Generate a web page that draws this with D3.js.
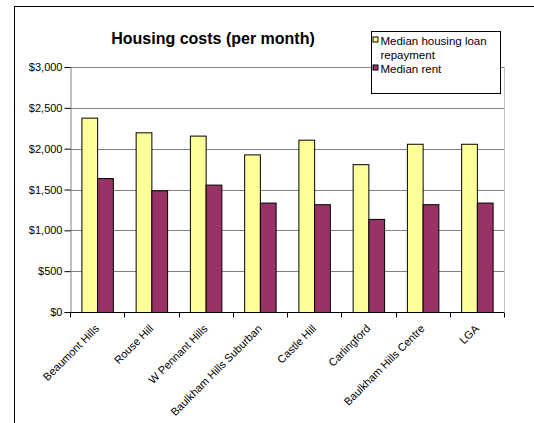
<!DOCTYPE html>
<html>
<head>
<meta charset="utf-8">
<script src="https://cdn.jsdelivr.net/npm/d3@7"></script>
<style>
  body { margin: 0; background: #fff; }
  text { font-family: "Liberation Sans", Arial, sans-serif; fill: #000; }
</style>
</head>
<body>
<div id="chart"></div>
<script>
// Chart data
var suburbs = ["Beaumont Hills", "Rouse Hill", "W Pennant Hills", "Baulkham Hills Suburban",
  "Castle Hill", "Carlingford", "Baulkham Hills Centre", "LGA"];
var loanRepayment = [2380, 2200, 2160, 1930, 2110, 1810, 2060, 2060];
var rent = [1640, 1490, 1560, 1340, 1320, 1140, 1320, 1340];
var seriesNames = ["Median housing loan repayment", "Median rent"];
var yTicks = [0, 500, 1000, 1500, 2000, 2500, 3000];

var svgWidth = 534;
var svgHeight = 423;

// plot area
var margin = { top: 67, right: 30, bottom: 111, left: 70 };
var chartWidth = svgWidth - margin.left - margin.right;
var chartHeight = svgHeight - margin.top - margin.bottom;

var svg = d3.select("#chart")
  .append("svg")
  .attr("width", svgWidth)
  .attr("height", svgHeight);

// outer chart frame (runs off the right and bottom edge)
svg.append("rect")
  .attr("x", 14.5).attr("y", 6.5)
  .attr("width", 560).attr("height", 460)
  .attr("fill", "#fff")
  .attr("stroke", "#000");

var chartGroup = svg.append("g")
  .attr("transform", `translate(${margin.left}, ${margin.top})`);

// scales
var x0 = d3.scaleBand()
  .domain(suburbs)
  .range([0, chartWidth]);

var groupW = x0.bandwidth() * 0.58;
var x1 = d3.scaleBand()
  .domain(seriesNames)
  .range([(x0.bandwidth() - groupW) / 2, (x0.bandwidth() + groupW) / 2]);

var y = d3.scaleLinear()
  .domain([0, 3000])
  .range([chartHeight, 0]);

var colors = d3.scaleOrdinal()
  .domain(seriesNames)
  .range(["#ffff99", "#993366"]);

// right plot border
chartGroup.append("line")
  .attr("x1", chartWidth + 0.5).attr("x2", chartWidth + 0.5)
  .attr("y1", 0).attr("y2", chartHeight)
  .attr("stroke", "#c0c0c0");

// gridlines
chartGroup.append("g")
  .selectAll("line")
  .data(yTicks.filter(d => d > 0))
  .enter()
  .append("line")
    .attr("x1", 0).attr("x2", chartWidth)
    .attr("y1", d => Math.round(y(d)) + 0.5)
    .attr("y2", d => Math.round(y(d)) + 0.5)
    .attr("stroke", "#808080");

// bars
var rows = suburbs.map((s, i) => ({ name: s, values: [loanRepayment[i], rent[i]] }));

chartGroup.append("g")
  .selectAll("g")
  .data(rows)
  .enter()
  .append("g")
    .attr("transform", d => `translate(${x0(d.name)}, 0)`)
  .selectAll("rect")
  .data(d => d.values.map((v, j) => ({ key: seriesNames[j], value: v })))
  .enter()
  .append("rect")
    .attr("x", d => x1(d.key) + 0.5)
    .attr("y", d => y(d.value) + 0.5)
    .attr("width", x1.bandwidth())
    .attr("height", d => chartHeight - y(d.value))
    .attr("fill", d => colors(d.key))
    .attr("stroke", "#000")
    .attr("stroke-width", 1);

// left axis
var leftAxis = d3.axisLeft(y)
  .tickValues(yTicks)
  .tickSize(6)
  .tickPadding(2)
  .tickFormat(d => "$" + d3.format(",")(d));

var yAxisG = chartGroup.append("g")
  .attr("transform", "translate(0.5, 0)")
  .call(leftAxis);
yAxisG.select(".domain").attr("stroke", "#808080");
yAxisG.selectAll(".tick line").attr("stroke", "#000");
yAxisG.selectAll("text")
  .style("font-family", "'Liberation Sans', Arial, sans-serif")
  .style("font-size", "11px");

// bottom axis (ticks between categories)
var xAxisG = chartGroup.append("g")
  .attr("transform", `translate(0, ${chartHeight + 0.5})`);
xAxisG.append("line")
  .attr("x1", 0).attr("x2", chartWidth)
  .attr("stroke", "#000");
xAxisG.selectAll(".xtick")
  .data(suburbs.concat(["end"]))
  .enter()
  .append("line")
    .attr("x1", (d, i) => Math.round(i * x0.step()) + 0.5)
    .attr("x2", (d, i) => Math.round(i * x0.step()) + 0.5)
    .attr("y1", 0).attr("y2", 5)
    .attr("stroke", "#000");

// rotated category labels
xAxisG.selectAll(".xlabel")
  .data(suburbs)
  .enter()
  .append("text")
    .attr("transform", d => `translate(${x0(d) + x0.bandwidth() / 2}, 14) rotate(-45)`)
    .attr("text-anchor", "end")
    .attr("font-size", "11px")
    .attr("dy", "0.35em")
    .text(d => d);

// title
svg.append("text")
  .attr("x", 213)
  .attr("y", 44)
  .attr("text-anchor", "middle")
  .attr("font-size", "16px")
  .attr("font-weight", "bold")
  .text("Housing costs (per month)");

// legend
var legend = svg.append("g")
  .attr("transform", "translate(371.5, 31.5)");
legend.append("rect")
  .attr("width", 129).attr("height", 62)
  .attr("fill", "#fff")
  .attr("stroke", "#000");

var legendLines = [
  { key: seriesNames[0], text: "Median housing loan", y: 13, swatch: true },
  { key: seriesNames[0], text: "repayment", y: 27, swatch: false },
  { key: seriesNames[1], text: "Median rent", y: 41, swatch: true }
];
legendLines.forEach(function(l) {
  if (l.swatch) {
    legend.append("rect")
      .attr("x", 1.5).attr("y", l.y - 7.5)
      .attr("width", 5).attr("height", 5)
      .attr("fill", colors(l.key))
      .attr("stroke", "#000");
  }
  legend.append("text")
    .attr("x", 9)
    .attr("y", l.y)
    .attr("font-size", "11.5px")
    .text(l.text);
});
</script>
</body>
</html>
